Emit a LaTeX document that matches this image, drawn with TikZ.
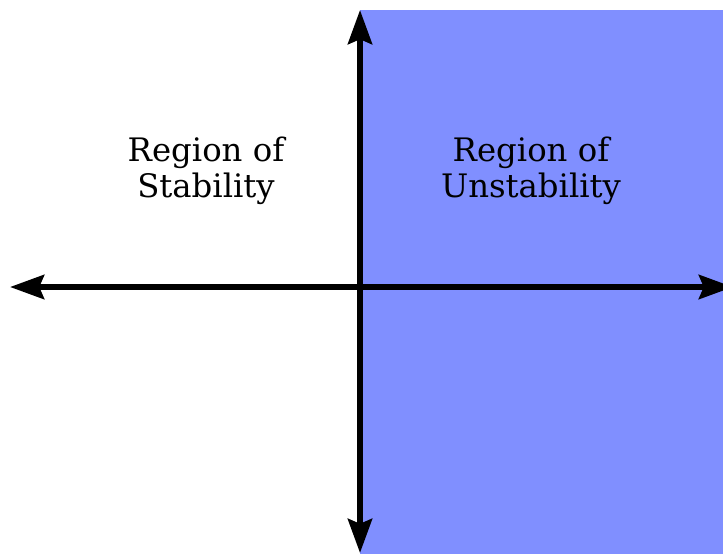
\documentclass[tikz,border=0pt]{standalone}
\usepackage{fontspec}
\setmainfont{DejaVu Serif}
\usetikzlibrary{arrows.meta}
\definecolor{unstablefill}{RGB}{128,143,255}

\begin{document}
\begin{tikzpicture}[x=0.025cm, y=-0.025cm,
    axis/.style={line width=1.5mm, {Stealth[length=8.5mm,width=6mm,inset=1.2mm]}-{Stealth[length=8.5mm,width=6mm,inset=1.2mm]}},
    region/.style={align=center, font=\fontsize{23}{26}\selectfont}]

    \useasboundingbox (0,0) rectangle (723,554);

    \coordinate (N) at (360, 10);
    \coordinate (S) at (360, 553);
    \coordinate (W) at (10, 287);
    \coordinate (E) at (733, 287);

    \fill[unstablefill] (360, 10) rectangle (723, 554);

    \draw[axis] (W) -- (E);
    \draw[axis] (S) -- (N);

    \node[region] (stable) at (206, 171) {Region of\\Stability};
    \node[region] (unstable) at (531, 171) {Region of\\Unstability};

\end{tikzpicture}
\end{document}
